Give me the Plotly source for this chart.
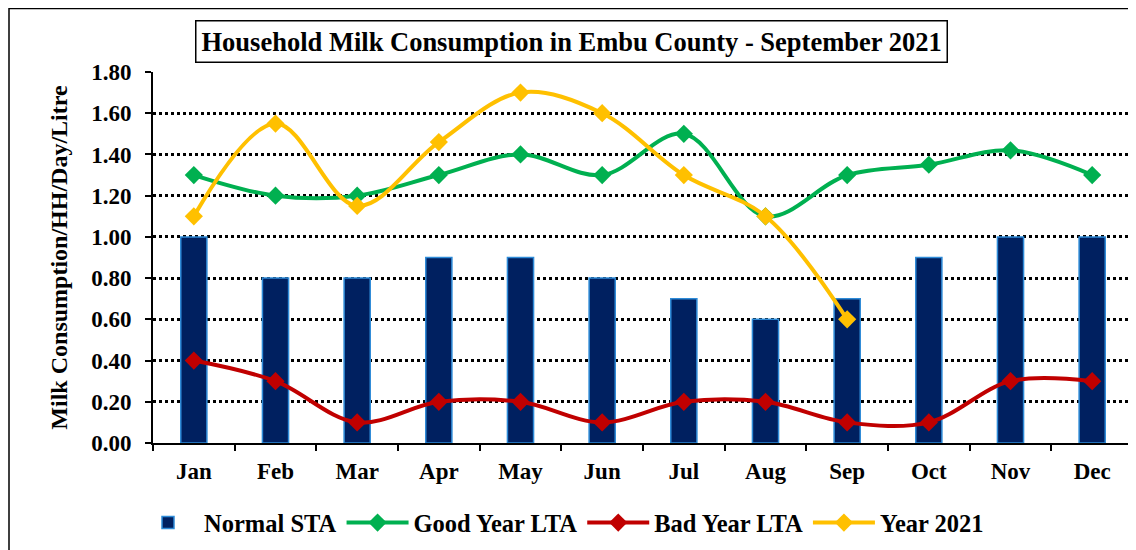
import plotly.graph_objects as go

months = ['Jan', 'Feb', 'Mar', 'Apr', 'May', 'Jun', 'Jul', 'Aug', 'Sep', 'Oct', 'Nov', 'Dec']
normal_sta = [1.0, 0.8, 0.8, 0.9, 0.9, 0.8, 0.7, 0.6, 0.7, 0.9, 1.0, 1.0]
good_lta = [1.3, 1.2, 1.2, 1.3, 1.4, 1.3, 1.5, 1.1, 1.3, 1.35, 1.42, 1.3]
bad_lta = [0.4, 0.3, 0.1, 0.2, 0.2, 0.1, 0.2, 0.2, 0.1, 0.1, 0.3, 0.3]
year_2021 = [1.1, 1.55, 1.15, 1.46, 1.70, 1.60, 1.30, 1.10, 0.60]

font = 'Liberation Serif, Times New Roman, serif'

def line_trace(y, name, colour):
    return go.Scatter(x=months[:len(y)], y=y, name=name, mode='lines+markers',
                      line=dict(color=colour, width=4, shape='spline', smoothing=1),
                      marker=dict(symbol='diamond', size=14, color=colour))

fig = go.Figure()
fig.add_trace(go.Bar(x=months, y=normal_sta, name='Normal STA', width=0.32,
                     marker=dict(color='#002060', line=dict(color='#2E8BD8', width=1.5))))
fig.add_trace(line_trace(good_lta, 'Good Year LTA', '#00B050'))
fig.add_trace(line_trace(bad_lta, 'Bad Year LTA', '#C00000'))
fig.add_trace(line_trace(year_2021, 'Year 2021', '#FFC000'))

# page body has an 8px margin, so the figure is laid out 8px up/left
W, H = 1136, 550
L, R, T, B = 145, 11, 64, 115
pw, ph = W - L - R, H - T - B

fig.update_layout(
    width=W, height=H,
    margin=dict(l=L, r=R, t=T, b=B, autoexpand=False),
    plot_bgcolor='white', paper_bgcolor='white',
    font=dict(family=font, size=23, color='black'),
    legend=dict(orientation='h', x=-21 / pw, y=-0.154, xanchor='left', yanchor='top',
                font=dict(family=font, size=24.5, color='black', weight='bold'),
                itemwidth=62, tracegroupgap=0),
    annotations=[dict(text='<b>Household Milk Consumption in Embu County - September 2021</b>',
                      xref='paper', yref='paper', x=418 / pw, y=1.083, xanchor='center', yanchor='middle',
                      showarrow=False, font=dict(family=font, size=26.5, color='black'),
                      bordercolor='black', borderwidth=1.5, borderpad=5, bgcolor='white')],
    shapes=[dict(type='rect', xref='paper', yref='paper',
                 x0=(1 - L) / pw, x1=(W + 20 - L) / pw, y0=-(B + 20) / ph, y1=(ph + T - 0.5) / ph,
                 line=dict(color='black', width=1.5), layer='below'),
            dict(type='line', xref='paper', yref='paper', x0=1, x1=1, y0=0, y1=1,
                 line=dict(color='black', width=2))],
)
fig.update_yaxes(range=[0, 1.8], dtick=0.2, tickformat='.2f', automargin=False,
                 showgrid=True, gridcolor='black', griddash='dot', gridwidth=2.5,
                 showline=True, linecolor='black', linewidth=2,
                 ticks='outside', ticklen=6, tickwidth=1.5, tickcolor='black', ticklabelstandoff=9,
                 tickfont=dict(family=font, size=23, weight='bold'),
                 title=dict(text='<b>Milk Consumption/HH/Day/Litre</b>', font=dict(family=font, size=24), standoff=17),
                 zeroline=False)
fig.update_xaxes(range=[-0.5, len(months) - 0.5],
                 showline=True, linecolor='black', linewidth=2, automargin=False,
                 ticks='outside', tickson='boundaries', ticklen=6, tickwidth=1.5, tickcolor='black',
                 ticklabelstandoff=6,
                 tickfont=dict(family=font, size=23, weight='bold'), showgrid=False)

fig.write_html("out.html")
